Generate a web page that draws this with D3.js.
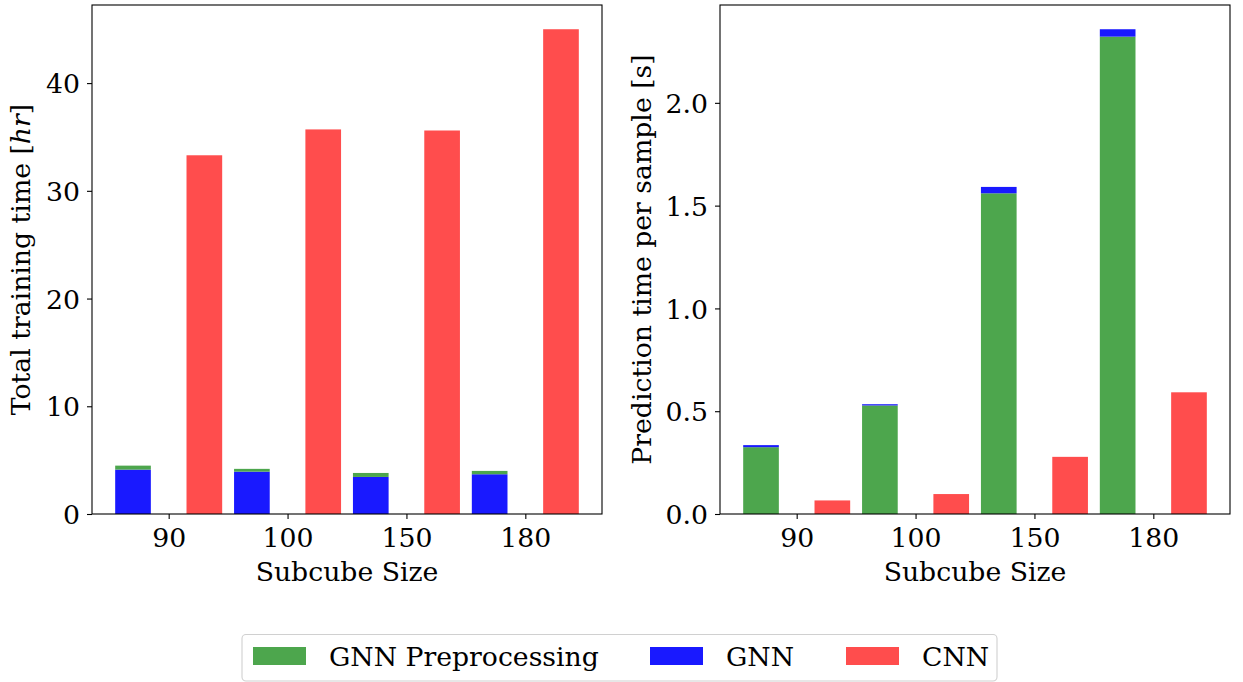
<!DOCTYPE html>
<html>
<head>
<meta charset="utf-8">
<script src="https://cdn.jsdelivr.net/npm/d3@7"></script>
<style>
  html, body { margin: 0; padding: 0; background: #fff; }
  svg { display: block; }
  text { font-family: "DejaVu Serif", serif; fill: #000; }
</style>
</head>
<body>
<svg id="fig" width="1243" height="682"></svg>
<script>
// Subcube sizes shared by both panels
const categories = ["90", "100", "150", "180"];

// Total training time [hr]
const trainGNN = [4.12, 3.93, 3.44, 3.69];
const trainGNNPre = [0.37, 0.26, 0.37, 0.31];
const trainCNN = [33.3, 35.7, 35.6, 45.0];

// Prediction time per sample [s]
const predGNNPre = [0.325, 0.528, 1.56, 2.322];
const predGNN = [0.010, 0.006, 0.031, 0.036];
const predCNN = [0.066, 0.097, 0.278, 0.592];

const trainTicks = [0, 10, 20, 30, 40];
const predTicks = [0.0, 0.5, 1.0, 1.5, 2.0];

const legendLabels = ["GNN Preprocessing", "GNN", "CNN"];

const colors = {
  pre: "#4da64d",
  gnn: "#1919ff",
  cnn: "#ff4d4d"
};

const FS = 26.7;
const svg = d3.select("#fig");

const barW = 0.3, offset = 0.3;

function panel(opts) {
  const { left, right, top, bottom } = opts;
  const g = svg.append("g");

  const x = d3.scaleLinear()
    .domain([-offset - barW / 2 - 0.195, categories.length - 1 + offset + barW / 2 + 0.195])
    .range([left, right]);
  const yMax = d3.max(opts.stacks.map(s => d3.max(s.base.map((v, i) => v + s.top[i]))).concat([d3.max(opts.cnn)])) * 1.05;
  const y = d3.scaleLinear().domain([0, yMax]).range([bottom, top]);

  // stacked GNN bars (left of each tick)
  const s = opts.stacks[0];
  g.append("g").selectAll("rect").data(categories).join("rect")
    .attr("x", (d, i) => x(i - offset - barW / 2))
    .attr("width", x(barW) - x(0))
    .attr("y", (d, i) => y(s.base[i]))
    .attr("height", (d, i) => y(0) - y(s.base[i]))
    .attr("fill", s.baseColor);
  g.append("g").selectAll("rect").data(categories).join("rect")
    .attr("x", (d, i) => x(i - offset - barW / 2))
    .attr("width", x(barW) - x(0))
    .attr("y", (d, i) => y(s.base[i] + s.top[i]))
    .attr("height", (d, i) => y(s.base[i]) - y(s.base[i] + s.top[i]))
    .attr("fill", s.topColor);

  // CNN bars (right of each tick)
  g.append("g").selectAll("rect").data(categories).join("rect")
    .attr("x", (d, i) => x(i + offset - barW / 2))
    .attr("width", x(barW) - x(0))
    .attr("y", (d, i) => y(opts.cnn[i]))
    .attr("height", (d, i) => y(0) - y(opts.cnn[i]))
    .attr("fill", colors.cnn);

  // x axis
  const xa = g.append("g").attr("transform", `translate(0,${bottom})`)
    .call(d3.axisBottom(x).tickValues(d3.range(categories.length))
      .tickFormat(i => categories[i]).tickSize(5).tickSizeOuter(0));
  xa.select(".domain").remove();
  xa.selectAll("line").attr("stroke", "#000").attr("stroke-width", 1.1);
  xa.selectAll("text").attr("font-size", FS).attr("font-family", "DejaVu Serif")
    .attr("y", 0).attr("dy", null).attr("transform", "translate(0,33)");

  // y axis
  const ya = g.append("g").attr("transform", `translate(${left},0)`)
    .call(d3.axisLeft(y).tickValues(opts.ticks).tickFormat(opts.fmt).tickSize(5).tickSizeOuter(0));
  ya.select(".domain").remove();
  ya.selectAll("line").attr("stroke", "#000").attr("stroke-width", 1.1);
  ya.selectAll("text").attr("font-size", FS).attr("font-family", "DejaVu Serif")
    .attr("x", -12).attr("dy", "0.36em");

  // frame
  g.append("rect").attr("x", left).attr("y", top)
    .attr("width", right - left).attr("height", bottom - top)
    .attr("fill", "none").attr("stroke", "#000").attr("stroke-width", 1.1);

  // axis labels
  g.append("text").attr("x", (left + right) / 2).attr("y", 581)
    .attr("text-anchor", "middle").attr("font-size", FS).text("Subcube Size");
  const yl = g.append("text")
    .attr("transform", `translate(${opts.ylabelX},${(top + bottom) / 2}) rotate(-90)`)
    .attr("text-anchor", "middle").attr("font-size", FS);
  opts.ylabel(yl);
}

panel({
  left: 92, right: 602, top: 5, bottom: 514,
  stacks: [{ base: trainGNN, top: trainGNNPre, baseColor: colors.gnn, topColor: colors.pre }],
  cnn: trainCNN,
  ticks: trainTicks,
  fmt: d3.format("d"),
  ylabelX: 30,
  ylabel: t => {
    t.append("tspan").text("Total training time [");
    t.append("tspan").attr("font-style", "italic").text("hr");
    t.append("tspan").text("]");
  }
});

panel({
  left: 720, right: 1230, top: 5, bottom: 514,
  stacks: [{ base: predGNNPre, top: predGNN, baseColor: colors.pre, topColor: colors.gnn }],
  cnn: predCNN,
  ticks: predTicks,
  fmt: d3.format(".1f"),
  ylabelX: 651,
  ylabel: t => t.text("Prediction time per sample [s]")
});

// legend
const lg = svg.append("g");
lg.append("rect").attr("x", 242).attr("y", 634.5).attr("width", 755).attr("height", 46.5)
  .attr("rx", 4).attr("fill", "#fff").attr("stroke", "#d0d0d0").attr("stroke-width", 1.1);
const legendX = [253, 650, 846];
const legendColors = [colors.pre, colors.gnn, colors.cnn];
const items = lg.selectAll("g.item").data(legendLabels).join("g").attr("class", "item")
  .attr("transform", (d, i) => `translate(${legendX[i]},656)`);
items.append("rect").attr("x", 0).attr("y", -9).attr("width", 53).attr("height", 18)
  .attr("fill", (d, i) => legendColors[i]);
items.append("text").attr("x", 76).attr("dy", "0.36em").attr("font-size", FS).text(d => d);
</script>
</body>
</html>
